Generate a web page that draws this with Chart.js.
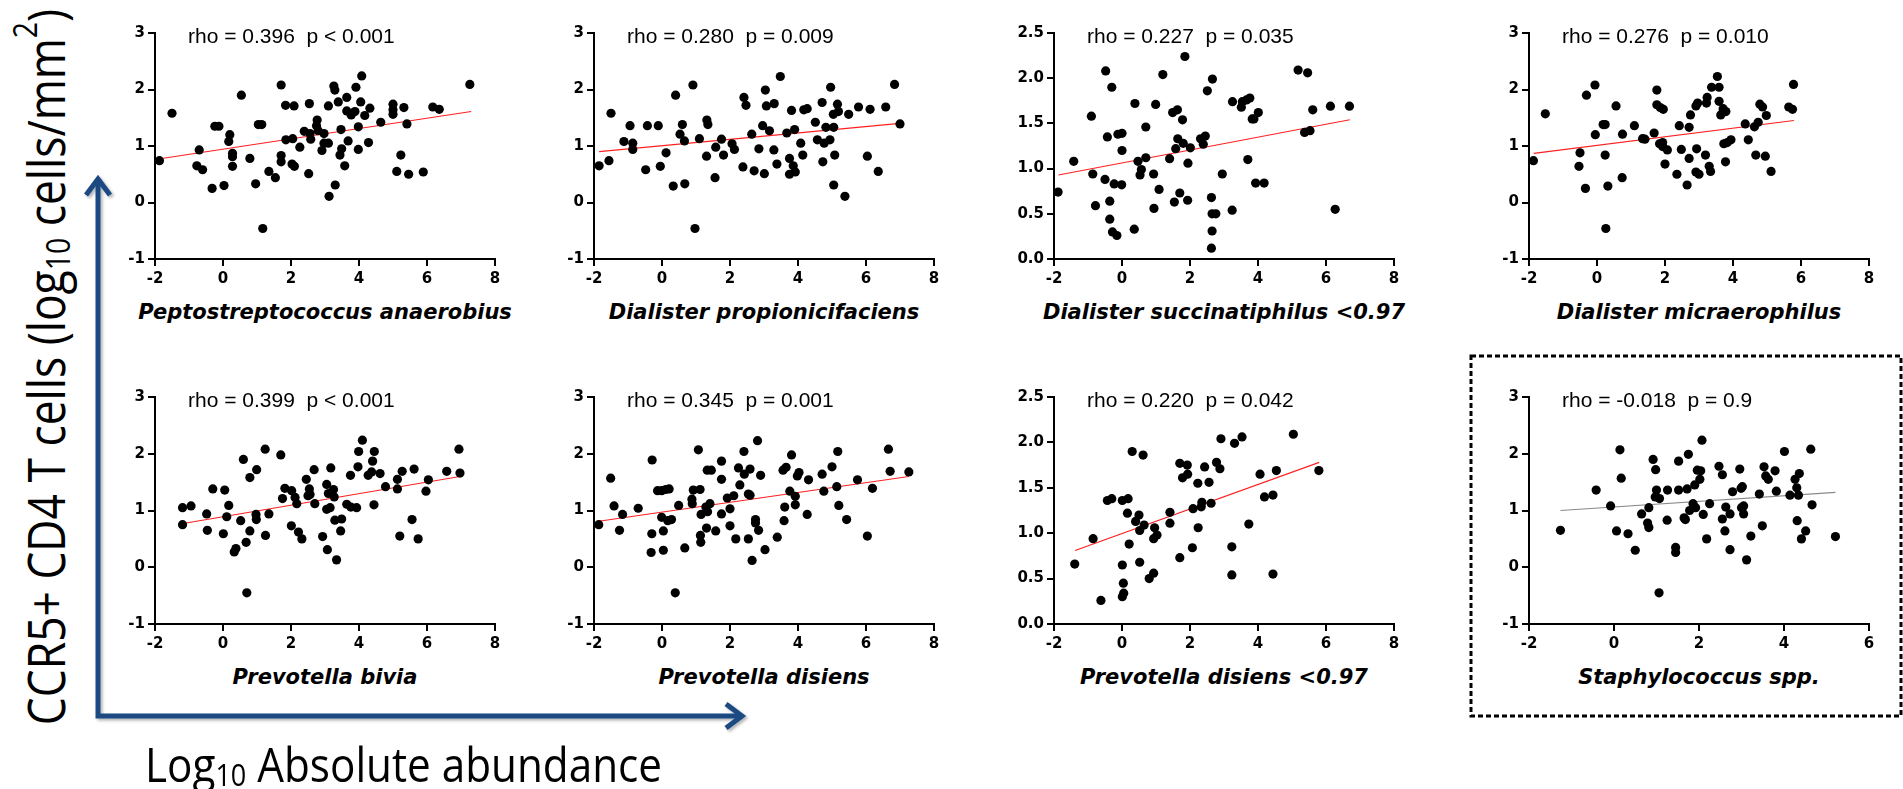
<!DOCTYPE html>
<html>
<head>
<meta charset="utf-8">
<script src="https://cdn.jsdelivr.net/npm/chart.js@4.4.1/dist/chart.umd.min.js"></script>
<style>
  body { margin: 0; width: 1903px; height: 789px; overflow: hidden; background: #fff; position: relative; }
  canvas { position: absolute; }
  .rho { position: absolute; font: 21px "Liberation Sans", Arial, sans-serif; line-height: 1; white-space: pre; color: #000; }
  .sp { position: absolute; font: italic bold 21px "DejaVu Sans", sans-serif; line-height: 1; white-space: nowrap; transform: translateX(-50%); color: #000; }
  .big { position: absolute; font-family: "Open Sans", sans-serif; line-height: 1; white-space: nowrap; color: #000; }
  .big sub, .big sup { font-size: 0.64em; vertical-align: baseline; position: relative; line-height: 0; }
  .big sub { top: 0.14em; }
  .big sup { top: -0.85em; }
</style>
</head>
<body>
<svg width="1903" height="789" style="position:absolute;left:0;top:0">
  <defs>
    <filter id="sh" x="-20%" y="-20%" width="140%" height="140%">
      <feDropShadow dx="2" dy="2" stdDeviation="1.5" flood-color="#000" flood-opacity="0.3"/>
    </filter>
  </defs>
  <g fill="none" stroke="#1b4a82" stroke-width="5" filter="url(#sh)">
    <polyline points="98,179 98,716 742,716"/>
    <polyline points="86,195 98,179 110,195" stroke-linejoin="miter"/>
    <polyline points="726,704 742,716 726,728" stroke-linejoin="miter"/>
  </g>
  <rect x="1471" y="356" width="430" height="360" fill="none" stroke="#000" stroke-width="3" stroke-dasharray="5 3"/>
</svg>

<div class="big" id="ylab" style="font-size:51px;left:45px;top:367px;transform:translate(-50%,-50%) rotate(-90deg) scaleX(0.87)">CCR5+ CD4 T cells (log<sub>10</sub> cells/mm<sup>2</sup>)</div>
<div class="big" id="xlab" style="font-size:48px;left:145px;top:740px;transform-origin:0 0;transform:scaleX(0.88)">Log<sub>10</sub> Absolute abundance</div>

<script>
// species / annotations
const species = ["Peptostreptococcus anaerobius", "Dialister propionicifaciens", "Dialister succinatiphilus <0.97", "Dialister micraerophilus",
                 "Prevotella bivia", "Prevotella disiens", "Prevotella disiens <0.97", "Staphylococcus spp."];
const stats = ["rho = 0.396  p < 0.001", "rho = 0.280  p = 0.009", "rho = 0.227  p = 0.035", "rho = 0.276  p = 0.010",
               "rho = 0.399  p < 0.001", "rho = 0.345  p = 0.001", "rho = 0.220  p = 0.042", "rho = -0.018  p = 0.9"];

// tick values and labels
const yTicksA = [-1, 0, 1, 2, 3];
const yLabelsA = ["-1", "0", "1", "2", "3"];
const yTicksB = [0, 0.5, 1, 1.5, 2, 2.5];
const yLabelsB = ["0.0", "0.5", "1.0", "1.5", "2.0", "2.5"];
const xTicksA = [-2, 0, 2, 4, 6, 8];
const xTicksB = [-2, 0, 2, 4, 6];

// Peptostreptococcus anaerobius
const peptoX = [-1.87,-1.5,-0.77,-0.7,-0.6,-0.32,-0.24,-0.12,0.03,0.2,
  0.17,0.28,0.28,0.28,0.54,0.79,0.96,1.04,1.14,1.17,
  1.35,1.54,1.71,1.71,1.71,1.84,2.09,1.85,2.05,2.03,
  2.1,2.26,2.39,2.52,2.54,2.56,2.58,2.77,2.75,2.8,
  2.97,2.91,2.97,3.1,3.1,3.12,3.26,3.29,3.3,3.39,
  3.47,3.44,3.49,3.58,3.64,3.64,3.68,3.77,3.88,3.91,
  3.98,3.98,4.05,4.08,4.17,4.32,4.28,4.64,5.0,5.0,
  5.0,5.11,5.23,5.32,5.41,5.46,5.89,6.17,6.36,7.26];
const peptoY = [0.74,1.58,0.65,0.93,0.58,0.25,1.35,1.35,0.3,1.2,
  1.08,0.87,0.81,0.64,1.9,0.78,0.33,1.38,1.38,-0.46,
  0.55,0.44,2.08,0.83,0.72,1.72,1.71,1.11,1.13,0.68,
  0.64,0.98,1.26,0.51,1.75,1.22,1.12,1.46,1.36,1.27,
  1.22,0.92,1.05,1.05,1.71,0.11,2.06,1.99,0.31,1.78,
  1.29,0.84,0.95,0.65,1.86,1.62,1.09,1.55,1.61,2.04,
  1.34,0.94,1.78,2.24,1.54,1.67,1.06,1.42,1.74,1.64,
  1.56,0.55,0.84,1.68,1.39,0.5,0.54,1.69,1.65,2.09];
const peptoFitX = [-1.9, 7.3];
const peptoFitY = [0.77, 1.61];

// Dialister propionicifaciens
const propX = [-1.85,-1.56,-1.5,-1.12,-0.94,-0.86,-0.86,-0.43,-0.48,-0.11,
  -0.05,0.12,0.33,0.4,0.53,0.6,0.66,0.67,0.91,0.97,
  1.1,1.32,1.35,1.31,1.56,1.58,1.75,1.81,2.06,2.13,
  2.38,2.41,2.47,2.64,2.71,2.85,2.96,3.01,3.04,3.07,
  3.16,3.3,3.29,3.38,3.48,3.67,3.75,3.75,3.81,3.86,
  3.92,3.9,4.08,4.14,4.17,4.27,4.51,4.57,4.71,4.73,
  4.82,4.77,4.94,4.96,5.04,5.05,5.05,5.08,5.16,5.19,
  5.38,5.49,5.78,6.04,6.12,6.36,6.58,6.84,7.0];
const propY = [0.65,0.74,1.58,1.08,1.36,1.05,0.94,1.36,0.58,1.36,
  0.64,0.88,0.29,1.9,1.21,1.38,1.09,0.33,2.08,-0.46,
  1.13,1.46,1.38,0.82,0.44,0.98,1.12,0.84,1.04,0.94,
  0.63,1.86,1.72,1.21,0.56,0.95,1.36,0.51,1.99,1.71,
  1.27,1.75,0.93,0.68,2.23,1.23,0.78,0.5,1.63,0.65,
  0.54,1.29,1.05,0.84,1.64,1.66,1.42,1.11,1.77,0.72,
  1.33,1.05,1.11,2.04,1.56,1.33,0.31,0.84,1.74,1.61,
  0.11,1.56,1.69,0.82,1.65,0.55,1.69,2.09,1.39];
const propFitX = [-1.85, 7.0];
const propFitY = [0.9, 1.4];

// Dialister succinatiphilus <0.97
const succX = [-1.88,-1.42,-0.9,-0.86,-0.78,-0.48,-0.5,-0.43,-0.3,-0.36,
  -0.36,-0.28,-0.15,-0.23,-0.12,0.0,-0.01,0.0,0.38,0.36,
  0.47,0.57,0.53,0.7,0.7,0.99,0.93,0.94,1.09,1.2,
  1.4,1.49,1.63,1.54,1.64,1.58,1.7,1.78,1.8,1.85,
  1.93,1.94,2.01,2.31,2.45,2.39,2.51,2.66,2.63,2.65,
  2.76,2.65,2.63,2.95,3.24,3.25,3.51,3.54,3.66,3.76,
  3.7,3.83,3.93,4.01,3.88,4.18,5.18,5.46,5.37,5.53,
  5.61,6.13,6.27,6.69];
const succY = [0.74,1.08,1.58,0.94,0.59,2.08,0.88,1.35,1.9,0.64,
  0.44,0.3,0.26,0.83,1.38,1.39,0.82,1.2,1.72,0.33,
  1.08,0.99,0.93,1.46,1.12,1.71,0.94,0.56,0.77,2.04,
  1.11,1.62,1.65,0.63,1.33,1.22,0.73,1.54,1.28,2.24,
  0.65,1.06,1.23,1.33,1.36,1.27,1.86,1.99,0.68,0.5,
  0.5,0.31,0.12,0.94,0.54,1.74,1.68,1.74,1.76,1.78,
  1.1,1.55,0.84,1.62,1.55,0.84,2.09,2.06,1.4,1.42,
  1.65,1.69,0.55,1.69];
const succFitX = [-1.87, 6.7];
const succFitY = [0.93, 1.54];

// Dialister micraerophilus
const micrX = [-1.87,-1.52,-0.53,-0.5,-0.34,-0.31,-0.06,-0.05,0.18,0.24,
  0.24,0.26,0.32,0.56,0.75,0.74,1.1,1.34,1.41,1.68,
  1.76,1.76,1.84,1.86,1.95,1.93,1.93,2.0,2.07,2.35,
  2.42,2.48,2.65,2.71,2.71,2.75,2.93,2.91,3.0,2.91,
  2.96,3.19,3.24,3.22,3.3,3.34,3.37,3.54,3.59,3.59,
  3.64,3.71,3.79,3.73,3.78,3.83,3.94,4.36,4.45,4.63,
  4.67,4.74,4.79,4.87,4.95,4.98,5.12,5.64,5.75,5.78];
const micrY = [0.74,1.57,0.64,0.88,0.25,1.9,2.08,1.2,1.38,1.38,
  0.84,-0.46,0.29,1.71,1.21,0.44,1.36,1.13,1.12,1.23,
  1.99,1.73,1.04,1.68,1.65,1.06,0.99,0.68,0.93,0.5,
  1.36,0.94,0.31,0.78,1.33,1.55,0.95,0.54,0.5,1.71,
  1.76,0.84,1.86,1.76,0.64,0.55,2.04,2.23,2.04,1.79,
  1.55,1.66,1.61,1.04,0.72,1.06,1.11,1.39,1.11,1.34,
  0.84,1.42,1.74,1.69,0.82,1.54,0.55,1.69,1.65,2.09];
const micrFitX = [-1.86, 5.79];
const micrFitY = [0.87, 1.45];

// Prevotella bivia
const biviaX = [-1.19,-1.19,-0.94,-0.48,-0.46,-0.3,0.01,0.05,0.17,0.11,
  0.33,0.38,0.52,0.6,0.68,0.7,0.79,0.79,0.99,0.97,
  0.98,1.24,1.25,1.35,1.7,1.75,1.82,2.01,2.02,2.12,
  2.17,2.22,2.32,2.45,2.54,2.56,2.5,2.68,2.7,2.93,
  3.05,3.05,3.07,3.1,3.15,3.17,3.25,3.27,3.29,3.34,
  3.49,3.46,3.64,3.75,3.76,3.93,3.97,3.99,4.1,4.27,
  4.37,4.4,4.45,4.44,4.62,4.78,5.13,5.13,5.2,5.27,
  5.56,5.62,5.74,5.97,6.04,6.58,6.94,6.97];
const biviaY = [1.05,0.75,1.08,0.94,0.65,1.38,0.59,1.36,1.09,0.89,
  0.27,0.33,0.82,1.9,0.44,-0.45,1.58,0.64,1.72,0.93,
  0.84,2.08,0.56,0.94,1.98,1.21,1.39,0.73,1.35,1.23,
  1.12,0.62,0.5,1.55,1.38,1.28,1.26,1.72,1.12,0.54,
  1.46,1.02,0.31,1.3,1.05,1.75,1.37,1.24,0.83,0.13,
  0.85,0.64,1.11,1.62,1.06,1.05,1.77,2.04,2.24,1.62,
  1.68,1.87,2.04,1.1,1.65,1.42,1.55,1.38,0.55,1.69,
  0.84,1.73,0.5,1.34,1.54,1.69,2.08,1.66];
const biviaFitX = [-1.17, 6.97];
const biviaFitY = [0.77, 1.6];

// Prevotella disiens
const disX = [-1.86,-1.51,-1.41,-1.25,-1.16,-0.7,-0.29,-0.3,-0.32,-0.13,
  -0.01,0.11,0.21,-0.01,0.04,0.04,0.17,0.28,0.39,0.49,
  0.67,0.88,0.89,0.92,1.07,1.12,1.13,1.14,1.15,1.29,
  1.31,1.34,1.41,1.33,1.45,1.58,1.75,1.75,1.75,1.92,
  2.0,2.0,2.11,2.17,2.25,2.29,2.41,2.42,2.59,2.54,
  2.59,2.54,2.65,2.75,2.75,2.81,2.84,2.9,3.03,3.39,
  3.56,3.65,3.59,3.61,3.76,3.81,3.92,3.92,3.98,4.03,
  4.27,4.31,4.71,4.76,5.0,5.14,5.17,5.2,5.43,5.75,
  6.04,6.19,6.66,6.71,7.26];
const disY = [0.75,1.57,1.08,0.65,0.93,1.04,1.89,0.59,0.26,1.35,
  1.35,1.37,1.38,0.88,0.64,0.3,0.82,0.84,-0.45,1.09,
  0.34,1.2,1.12,1.36,2.07,1.37,0.56,0.44,0.93,1.06,
  0.69,0.98,1.12,1.71,1.71,0.64,1.87,1.55,0.94,1.22,
  1.03,0.73,1.26,0.5,1.75,1.45,2.04,1.64,1.73,1.29,
  1.27,0.5,0.12,0.84,0.78,2.23,0.65,1.62,0.31,0.53,
  1.71,1.76,0.82,1.06,1.34,1.98,1.25,1.1,1.61,1.67,
  0.93,1.54,1.64,1.34,1.77,1.42,2.04,1.09,0.84,1.54,
  0.55,1.39,2.08,1.69,1.68];
const disFitX = [-1.86, 7.26];
const disFitY = [0.81, 1.6];

// Prevotella disiens <0.97
const dis97X = [-1.39,-0.85,-0.62,-0.43,-0.3,0.3,0.62,0.01,0.18,0.01,
  0.04,0.05,0.01,0.16,0.5,0.4,0.21,0.52,0.65,0.52,
  0.8,0.93,0.96,1.03,0.93,1.41,1.41,1.7,1.7,1.78,
  1.92,1.93,2.09,2.07,2.23,2.24,2.35,2.33,2.43,2.56,
  2.62,2.78,2.88,2.91,3.23,3.23,3.31,3.53,3.73,4.06,
  4.19,4.44,4.44,4.54,5.04,5.79];
const dis97Y = [0.66,0.94,0.26,1.36,1.38,1.9,1.86,1.36,1.38,0.65,
  0.45,0.34,0.3,1.22,1.2,1.13,0.88,1.03,1.09,0.68,
  0.5,0.56,1.06,0.98,0.94,1.23,1.11,0.73,1.77,1.61,
  1.75,1.65,1.27,0.84,1.55,1.06,1.34,1.29,1.73,1.56,
  1.33,1.78,1.71,2.04,0.85,0.54,1.99,2.06,1.1,1.65,
  1.4,1.42,0.55,1.69,2.09,1.69];
const dis97FitX = [-1.38, 5.8];
const dis97FitY = [0.81, 1.78];

// Staphylococcus spp.
const staphX = [-1.26,-0.42,-0.08,0.06,0.14,0.17,0.33,0.5,0.65,0.79,
  0.82,0.82,0.92,0.98,1.0,0.97,1.07,1.06,1.26,1.25,
  1.45,1.45,1.52,1.52,1.65,1.68,1.72,1.75,1.78,1.86,
  1.9,1.92,1.96,2.02,2.04,2.07,2.1,2.18,2.25,2.47,
  2.55,2.55,2.61,2.63,2.73,2.73,2.79,2.96,2.99,3.02,
  3.0,3.05,3.05,3.12,3.22,3.42,3.49,3.53,3.57,3.63,
  3.79,3.82,4.01,4.14,4.26,4.3,4.36,4.34,4.31,4.41,
  4.51,4.63,4.66,5.21];
const staphY = [0.65,1.36,1.08,0.64,2.07,1.57,0.59,0.3,0.94,0.78,
  0.7,1.05,1.9,1.72,1.36,1.24,1.21,-0.45,1.36,0.83,
  0.35,0.26,1.87,1.36,0.87,0.84,1.38,1.99,1.0,1.12,
  1.45,1.05,1.71,1.55,1.7,2.24,0.93,0.5,1.12,1.78,
  1.63,0.85,0.64,1.06,0.94,0.31,1.33,1.73,1.39,1.42,
  1.05,1.08,0.94,0.13,0.55,1.29,0.73,1.77,1.61,1.55,
  1.7,1.34,2.04,1.27,1.55,1.4,1.65,1.27,0.82,0.5,
  0.64,2.08,1.1,0.54];
const staphFitX = [-1.26, 5.21];
const staphFitY = [1.0, 1.32];

// panel placement: axis corner (left, top of plot area) and plot size
const cols = [155, 594, 1054, 1529];
const rows = [33, 397];
const plotW = 340, plotH = [226, 227];
const padL = 50, padT = 15, padR = 18, padB = 40;

const panels = [
  { xs: peptoX, ys: peptoY, fx: peptoFitX, fy: peptoFitY, yt: yTicksA, yl: yLabelsA, xt: xTicksA, line: "#ff2020" },
  { xs: propX,  ys: propY,  fx: propFitX,  fy: propFitY,  yt: yTicksA, yl: yLabelsA, xt: xTicksA, line: "#ff2020" },
  { xs: succX,  ys: succY,  fx: succFitX,  fy: succFitY,  yt: yTicksB, yl: yLabelsB, xt: xTicksA, line: "#ff2020" },
  { xs: micrX,  ys: micrY,  fx: micrFitX,  fy: micrFitY,  yt: yTicksA, yl: yLabelsA, xt: xTicksA, line: "#ff2020" },
  { xs: biviaX, ys: biviaY, fx: biviaFitX, fy: biviaFitY, yt: yTicksA, yl: yLabelsA, xt: xTicksA, line: "#ff2020" },
  { xs: disX,   ys: disY,   fx: disFitX,   fy: disFitY,   yt: yTicksA, yl: yLabelsA, xt: xTicksA, line: "#ff2020" },
  { xs: dis97X, ys: dis97Y, fx: dis97FitX, fy: dis97FitY, yt: yTicksB, yl: yLabelsB, xt: xTicksA, line: "#ff2020" },
  { xs: staphX, ys: staphY, fx: staphFitX, fy: staphFitY, yt: yTicksA, yl: yLabelsA, xt: xTicksB, line: "#8a8a8a" }
];

const tickFont = { family: "DejaVu Sans", weight: "bold", size: 15 };

panels.forEach((p, i) => {
  const ax = cols[i % 4], ay = rows[Math.floor(i / 4)], h = plotH[Math.floor(i / 4)];

  const cv = document.createElement("canvas");
  cv.width = padL + plotW + padR;
  cv.height = padT + h + padB;
  cv.style.left = (ax - padL) + "px";
  cv.style.top = (ay - padT) + "px";
  document.body.appendChild(cv);

  new Chart(cv, {
    type: "scatter",
    data: {
      datasets: [
        {
          data: p.xs.map((x, k) => ({ x, y: p.ys[k] })),
          pointRadius: 4.6,
          pointBackgroundColor: "#000",
          pointBorderWidth: 0,
          clip: false,
          order: 1
        },
        {
          data: p.fx.map((x, k) => ({ x, y: p.fy[k] })),
          showLine: true,
          borderColor: p.line,
          borderWidth: 1.1,
          pointRadius: 0,
          order: 2
        }
      ]
    },
    options: {
      responsive: false,
      animation: false,
      events: [],
      layout: { padding: { top: padT, right: padR, left: 0, bottom: 0 } },
      plugins: { legend: { display: false }, tooltip: { enabled: false } },
      scales: {
        x: {
          type: "linear",
          min: p.xt[0],
          max: p.xt[p.xt.length - 1],
          afterFit: s => { s.height = padB; },
          afterBuildTicks: s => { s.ticks = p.xt.map(v => ({ value: v })); },
          ticks: { autoSkip: false, maxRotation: 0, padding: 4, color: "#000", font: tickFont, callback: v => String(v) },
          grid: { drawOnChartArea: false, tickLength: 7, color: "#000", lineWidth: 2 },
          border: { display: true, color: "#000", width: 2 }
        },
        y: {
          type: "linear",
          min: p.yt[0],
          max: p.yt[p.yt.length - 1],
          afterFit: s => { s.width = padL; },
          afterBuildTicks: s => { s.ticks = p.yt.map(v => ({ value: v })); },
          ticks: { autoSkip: false, padding: 3, color: "#000", font: tickFont, callback: (v, idx) => p.yl[idx] },
          grid: { drawOnChartArea: false, tickLength: 7, color: "#000", lineWidth: 2 },
          border: { display: true, color: "#000", width: 2 }
        }
      }
    }
  });

  const r = document.createElement("div");
  r.className = "rho";
  r.textContent = stats[i];
  r.style.left = (ax + 33) + "px";
  r.style.top = (ay + 10 - 17.8) + "px";
  document.body.appendChild(r);

  const t = document.createElement("div");
  t.className = "sp";
  t.textContent = species[i];
  t.style.left = (ax + plotW / 2) + "px";
  t.style.top = (ay + h + 60.5 - 17.8) + "px";
  document.body.appendChild(t);
});
</script>
</body>
</html>
